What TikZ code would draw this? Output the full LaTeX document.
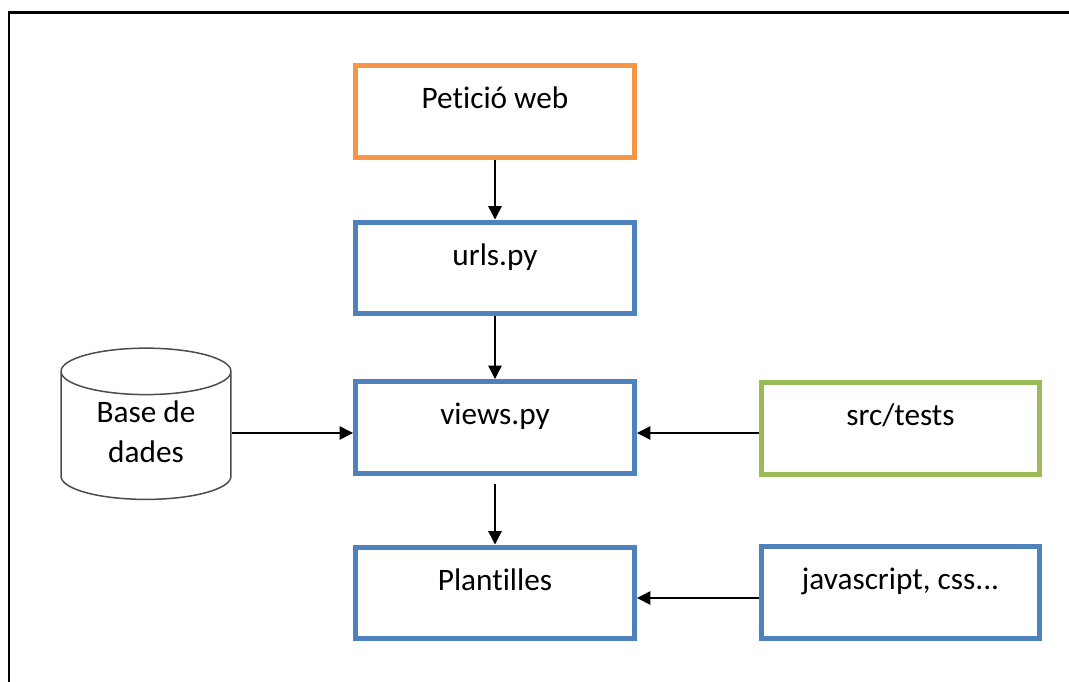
\documentclass[tikz,border=0pt]{standalone}
\usepackage{fontspec}
\setmainfont{Carlito}[Ligatures=NoCommon]
\usetikzlibrary{shapes.geometric,arrows.meta,calc}

\definecolor{blau}{HTML}{4F81BD}
\definecolor{taronja}{HTML}{F79646}
\definecolor{verd}{HTML}{9BBB59}

\begin{document}
\begin{tikzpicture}[x=0.02cm,y=-0.02cm,
	caixa/.style={draw,line width=0.1cm,minimum width=5.58cm,minimum height=1.84cm,
		text height=0.75em,text depth=1.05em,font=\fontsize{17.8}{22.7}\selectfont},
	fletxa/.style={line width=0.03cm,-{Triangle[length=0.27cm,width=0.27cm]}}]
	
	\useasboundingbox (0,0) rectangle (1069,682);
	\draw[line width=0.06cm] (1069,13) -- (9,13) -- (9,682);
	
	\node[caixa,draw=taronja] (peticio) at (495,111.5) {Petició web};
	\node[caixa,draw=blau] (urls) at (495,268) {urls.py};
	\node[caixa,draw=blau] (views) at (495,427.5) {views.py};
	\node[caixa,draw=blau] (plantilles) at (495,593) {Plantilles};
	\node[caixa,draw=verd] (tests) at (900.5,428.5) {src/tests};
	\node[caixa,draw=blau] (js) at (900.5,592.5) {javascript, css...};
	
	\node[cylinder,shape border rotate=90,aspect=0.42,draw=black!70,line width=0.03cm,
		minimum width=3.4cm,minimum height=2.98cm,align=center,text depth=0.32cm,
		font=\fontsize{17.8}{22.7}\selectfont] (dades) at (146,440) {Base de\\dades};
	
	\coordinate (dadesout) at ($(dades.east)+(0,-7)$);
	\coordinate (testsout) at ($(tests.west)+(0,4.5)$);
	\coordinate (jsout) at ($(js.west)+(0,5.5)$);
	
	\draw[fletxa] (peticio) -- (urls);
	\draw[fletxa] (urls) -- (views);
	\draw[fletxa,shorten <=0.16cm] (views) -- (plantilles);
	\draw[fletxa] (dadesout) -- (dadesout -| views.west);
	\draw[fletxa] (testsout) -- (testsout -| views.east);
	\draw[fletxa] (jsout) -- (jsout -| plantilles.east);
	
\end{tikzpicture}
\end{document}
